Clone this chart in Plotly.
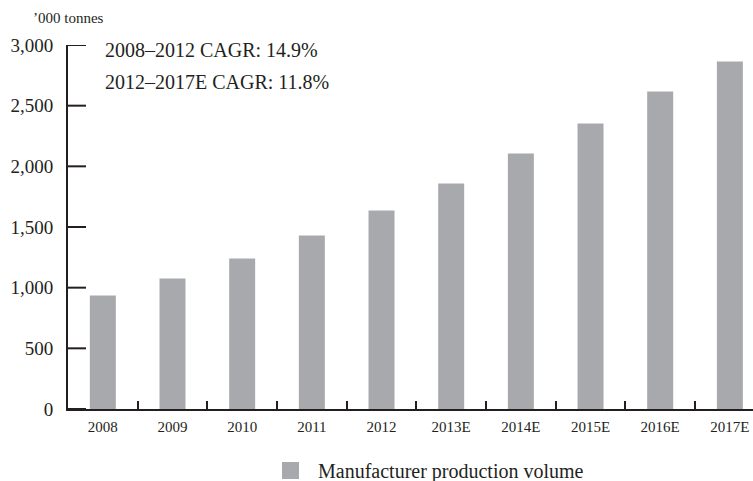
import plotly.graph_objects as go

# Manufacturer production volume, '000 tonnes
years = ["2008", "2009", "2010", "2011", "2012",
         "2013E", "2014E", "2015E", "2016E", "2017E"]
volume = [935, 1076, 1240, 1430, 1636, 1859, 2106, 2354, 2617, 2865]

y_ticks = [0, 500, 1000, 1500, 2000, 2500, 3000]
cagr_notes = ["2008\u20132012 CAGR: 14.9%", "2012\u20132017E CAGR: 11.8%"]
unit_label = "\u2019000 tonnes"
series_name = "Manufacturer production volume"

BAR = "#a8a9ac"
INK = "#231f20"
FONT = "Liberation Serif"

W, H = 753, 481
ML, MT, MB = 68, 45, 72
plot_w = W - ML
plot_h = H - MT - MB
cat_px = 69.67  # width of one year slot in pixels
YTICK_LEN = 18

fig = go.Figure()
fig.add_trace(go.Bar(
    x=years, y=volume, name=series_name,
    marker=dict(color=BAR, line=dict(width=0)),
    width=0.373, showlegend=False,
))

fig.update_layout(
    width=W, height=H,
    margin=dict(l=ML, r=0, t=MT, b=MB, pad=0),
    plot_bgcolor="white", paper_bgcolor="white",
    font=dict(family=FONT, color=INK),
    xaxis=dict(
        type="category",
        range=[-0.5, -0.5 + plot_w / cat_px],
        showline=True, linecolor=INK, linewidth=2,
        ticks="inside", tickson="boundaries", ticklen=8, tickwidth=2,
        tickcolor=INK, showgrid=False, zeroline=False,
        tickfont=dict(size=15, family=FONT, color=INK),
        ticklabelstandoff=3,
    ),
    yaxis=dict(
        range=[0, 3000],
        tickmode="array", tickvals=y_ticks,
        ticktext=[f"{v:,}" for v in y_ticks],
        showline=True, linecolor=INK, linewidth=2,
        ticks="", showgrid=False, zeroline=False,
        tickfont=dict(size=19, family=FONT, color=INK),
        ticklabelstandoff=9,
    ),
    bargap=0.6,
)

# inward tick marks on the value axis
for v in y_ticks:
    fig.add_shape(
        type="line", xref="paper", yref="y",
        x0=0, x1=YTICK_LEN / plot_w, y0=v, y1=v,
        line=dict(color=INK, width=2), layer="above",
    )

def px_x(x):
    return (x - ML) / plot_w

def px_y(y):
    return (H - MB - y) / plot_h

annos = [
    dict(text=unit_label, x=px_x(31), y=px_y(18), size=15),
    dict(text=cagr_notes[0], x=px_x(103), y=px_y(50), size=20),
    dict(text=cagr_notes[1], x=px_x(103), y=px_y(82), size=20),
    dict(text=series_name, x=px_x(316), y=px_y(471), size=20),
]
for a in annos:
    fig.add_annotation(
        xref="paper", yref="paper", xanchor="left", yanchor="middle",
        showarrow=False, x=a["x"], y=a["y"], text=a["text"],
        font=dict(family=FONT, color=INK, size=a["size"]),
    )

# legend swatch
fig.add_shape(
    type="rect", xref="paper", yref="paper",
    x0=px_x(282), x1=px_x(299), y0=px_y(479), y1=px_y(462),
    fillcolor=BAR, line=dict(width=0),
)

fig.write_html("out.html")
